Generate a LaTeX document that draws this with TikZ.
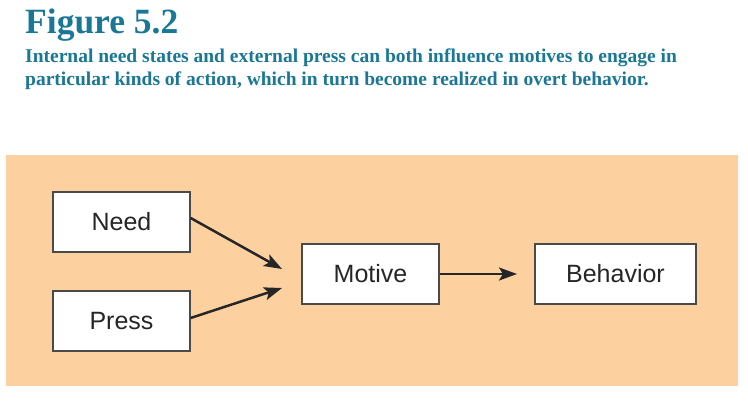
\documentclass[tikz,border=0pt]{standalone}
\usepackage{fontspec}
\setmainfont{Liberation Serif}
\newfontfamily\boxfont{Liberation Sans}
\usetikzlibrary{arrows.meta}
\definecolor{teal}{HTML}{1A7896}
\definecolor{panel}{HTML}{FDD0A0}
\definecolor{boxline}{HTML}{4A4A4A}
\tikzset{
  x=1pt, y=-1pt,
  box/.style={draw=boxline, line width=1.3pt, fill=white, inner sep=0pt, font=\boxfont\fontsize{25}{28}\selectfont, text=black!85},
  conn/.style={line width=2.5pt, draw=black!85, -{Stealth[length=18pt,width=13pt,inset=4pt]}}
}
\begin{document}
\begin{tikzpicture}
\useasboundingbox (0,0) rectangle (748,410);
\fill[white] (0,0) rectangle (748,410);
\node[anchor=base west, text=teal, font=\bfseries\fontsize{35.5}{38}\selectfont, inner sep=0pt] (title) at (25,33) {Figure 5.2};
\node[anchor=base west, text=teal, font=\bfseries\fontsize{19.5}{22.3}\selectfont, inner sep=0pt, align=left] (cap) at (25,85) {Internal need states and external press can both influence motives to engage in\\particular kinds of action, which in turn become realized in overt behavior.};
\fill[panel] (6,155) rectangle (738,386);
\node[box, minimum width=137pt, minimum height=60pt] (need) at (121.5,222) {Need};
\node[box, minimum width=137pt, minimum height=60pt] (press) at (121.5,321) {Press};
\node[box, minimum width=137pt, minimum height=60pt] (motive) at (370.5,274) {Motive};
\node[box, minimum width=161pt, minimum height=60pt] (behavior) at (615.5,274) {Behavior};
\coordinate (tipA) at (282,269);
\coordinate (tipB) at (282,288);
\draw[conn] (need.east |- 0,218) -- (tipA);
\draw[conn] (press.east |- 0,318) -- (tipB);
\draw[conn] (motive.east) -- (517,274);
\end{tikzpicture}
\end{document}
